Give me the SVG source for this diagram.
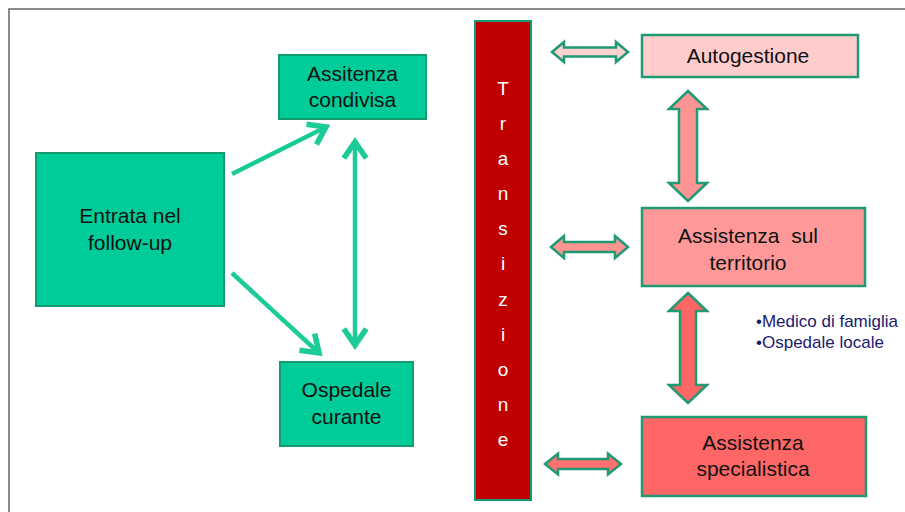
<svg xmlns="http://www.w3.org/2000/svg" width="905" height="512" viewBox="0 0 905 512">
<defs>
<style>
.t{font-family:"Liberation Sans",Arial,sans-serif;font-size:21px;fill:#111;text-anchor:middle}
.g{fill:#00CC99;stroke:#159B72;stroke-width:2}
.p{stroke:#1F9A72;stroke-width:2.5}
.ba{stroke:#1F9A72;stroke-width:2.5;stroke-linejoin:miter}
.ln{stroke:#1CCB97;stroke-width:4.5;fill:none}
.tr{font-family:"Liberation Sans",Arial,sans-serif;font-size:19px;fill:#fff;text-anchor:middle}
.b{font-family:"Liberation Sans",Arial,sans-serif;font-size:17px;fill:#1A1A6E}
</style>
<marker id="ch" markerUnits="userSpaceOnUse" markerWidth="30" markerHeight="30" viewBox="-20 -12 24 24" refX="0" refY="0" orient="auto-start-reverse">
<path d="M-13,-9 L0,0 L-13,9" fill="none" stroke="#1CCB97" stroke-width="4.5" stroke-linejoin="miter"/>
</marker>
</defs>
<rect width="905" height="512" fill="#fff"/>
<path d="M9,512 V9 H905" fill="none" stroke="#666" stroke-width="1.5"/>

<g id="connectors">
<line class="ln" x1="232" y1="174" x2="326" y2="127" marker-end="url(#ch)"/>
<line class="ln" x1="232" y1="273" x2="319" y2="353" marker-end="url(#ch)"/>
<line class="ln" x1="355" y1="142" x2="355" y2="345" marker-start="url(#ch)" marker-end="url(#ch)"/>
<polygon class="ba" fill="#FFD2D2" points="552,52 564,42 564,47.5 616,47.5 616,42 628,52 616,62 616,56.5 564,56.5 564,62"/>
<polygon class="ba" fill="#FF9494" points="551,247 564,236 564,242 615,242 615,236 628,247 615,258 615,252 564,252 564,258"/>
<polygon class="ba" fill="#FF7070" points="545,464 558,453.5 558,459 608,459 608,453.5 621,464 608,474.5 608,469 558,469 558,474.5"/>
<polygon class="ba" fill="#FF9494" points="688,91 707,109 697,109 697,183 707,183 688,201 669,183 679,183 679,109 669,109"/>
<polygon class="ba" fill="#FF6666" points="688,293 707,311 696,311 696,385 707,385 688,403 669,385 680,385 680,311 669,311"/>
</g>

<g id="entrata">
<rect class="g" x="36" y="153" width="188" height="153"/>
<text class="t" x="130" y="223">Entrata nel</text>
<text class="t" x="130" y="250">follow-up</text>
</g>
<g id="condivisa">
<rect class="g" x="279" y="55" width="147" height="64"/>
<text class="t" x="352.5" y="81">Assitenza</text>
<text class="t" x="352.5" y="107">condivisa</text>
</g>
<g id="ospedale">
<rect class="g" x="280" y="362" width="133" height="84"/>
<text class="t" x="346.5" y="397">Ospedale</text>
<text class="t" x="346.5" y="424">curante</text>
</g>
<g id="transizione">
<rect x="475" y="21" width="56" height="479" fill="#C00000" stroke="#159B72" stroke-width="2"/>
<text class="tr" x="503" y="95">T</text>
<text class="tr" x="503" y="130">r</text>
<text class="tr" x="503" y="165">a</text>
<text class="tr" x="503" y="200">n</text>
<text class="tr" x="503" y="235">s</text>
<text class="tr" x="503" y="270">i</text>
<text class="tr" x="503" y="306">z</text>
<text class="tr" x="503" y="341">i</text>
<text class="tr" x="503" y="376">o</text>
<text class="tr" x="503" y="411">n</text>
<text class="tr" x="503" y="446">e</text>
</g>
<g id="autogestione">
<rect class="p" fill="#FFCCCC" x="642" y="35" width="216" height="42"/>
<text class="t" x="748" y="63">Autogestione</text>
</g>
<g id="territorio">
<rect class="p" fill="#FF9999" x="642" y="208" width="223" height="78"/>
<text class="t" x="748" y="243" xml:space="preserve">Assistenza  sul</text>
<text class="t" x="748" y="270">territorio</text>
</g>
<g id="specialistica">
<rect class="p" fill="#FF6666" x="642" y="417" width="224" height="79"/>
<text class="t" x="753" y="450">Assistenza</text>
<text class="t" x="753" y="476">specialistica</text>
</g>
<g id="note">
<text class="b" x="756" y="327">•Medico di famiglia</text>
<text class="b" x="756" y="348">•Ospedale locale</text>
</g>
</svg>
